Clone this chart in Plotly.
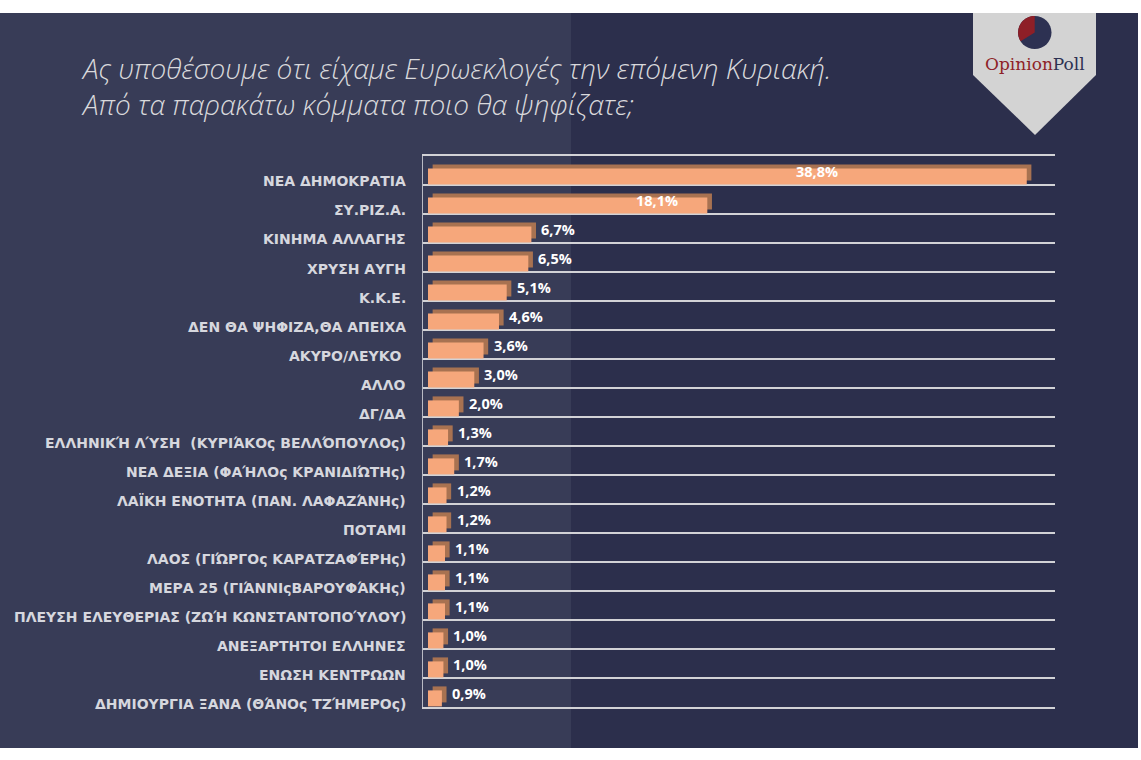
import math
import plotly.graph_objects as go

# ---------------- data ----------------
categories = [
    "ΝΕΑ ΔΗΜΟΚΡΑΤΙΑ",
    "ΣΥ.ΡΙΖ.Α.",
    "ΚΙΝΗΜΑ ΑΛΛΑΓΗΣ",
    "ΧΡΥΣΗ ΑΥΓΗ",
    "Κ.Κ.Ε.",
    "ΔΕΝ ΘΑ ΨΗΦΙΖΑ,ΘΑ ΑΠΕΙΧΑ",
    "ΑΚΥΡΟ/ΛΕΥΚΟ\u00a0",
    "ΑΛΛΟ",
    "ΔΓ/ΔΑ",
    "ΕΛΛΗΝΙΚΉ ΛΎΣΗ \u00a0(ΚΥΡΙΆΚΟς ΒΕΛΛΌΠΟΥΛΟς)",
    "ΝΕΑ ΔΕΞΙΑ (ΦΑΉΛΟς ΚΡΑΝΙΔΙΏΤΗς)",
    "ΛΑΪΚΗ ΕΝΟΤΗΤΑ (ΠΑΝ. ΛΑΦΑΖΆΝΗς)",
    "ΠΟΤΑΜΙ",
    "ΛΑΟΣ (ΓΙΏΡΓΟς ΚΑΡΑΤΖΑΦΈΡΗς)",
    "ΜΕΡΑ 25 (ΓΙΆΝΝΙςΒΑΡΟΥΦΆΚΗς)",
    "ΠΛΕΥΣΗ ΕΛΕΥΘΕΡΙΑΣ (ΖΩΉ ΚΩΝΣΤΑΝΤΟΠΟΎΛΟΥ)",
    "ΑΝΕΞΑΡΤΗΤΟΙ ΕΛΛΗΝΕΣ",
    "ΕΝΩΣΗ ΚΕΝΤΡΩΩΝ",
    "ΔΗΜΙΟΥΡΓΙΑ ΞΑΝΑ (ΘΆΝΟς ΤΖΉΜΕΡΟς)",
]
values = [38.8, 18.1, 6.7, 6.5, 5.1, 4.6, 3.6, 3.0, 2.0, 1.3, 1.7,
          1.2, 1.2, 1.1, 1.1, 1.1, 1.0, 1.0, 0.9]

title_lines = [
    "Ας υποθέσουμε ότι είχαμε Ευρωεκλογές την επόμενη Κυριακή.",
    "Από τα παρακάτω κόμματα ποιο θα ψηφίζατε;",
]

# ---------------- layout helpers ----------------
W, H = 1141, 760


def fx(px):
    return px / W


def fy(py):
    return 1 - py / H


FRONT = "#f6a77b"
BACK = "#a87251"
GRID = "#d2d2d6"
LABEL = "#d6d7de"

fig = go.Figure()

# 3D look: darker "depth" bar behind, then front face
fig.add_trace(go.Bar(
    x=values, y=categories, orientation="h", base=0.3,
    marker=dict(color=BACK, line=dict(width=0)),
    offset=-0.21, width=0.552, hoverinfo="skip", showlegend=False,
))
fig.add_trace(go.Bar(
    x=values, y=categories, orientation="h",
    marker=dict(color=FRONT, line=dict(width=0)),
    offset=-0.072, width=0.552, hoverinfo="skip", showlegend=False,
))

annotations = []
value_font = dict(family="Open Sans", size=14.5, color="white", weight="bold")
cat_font = dict(family="DejaVu Sans", size=14, color=LABEL, weight="bold")
inside_shift = {0: -187, 1: -27}
for i, (c, v) in enumerate(zip(categories, values)):
    txt = f"{v:.1f}".replace(".", ",") + "%"
    if i in inside_shift:
        annotations.append(dict(x=v, y=c, xref="x", yref="y", text=txt,
                                showarrow=False, xanchor="right",
                                xshift=inside_shift[i], yshift=-1,
                                font=value_font))
    else:
        annotations.append(dict(x=v, y=c, xref="x", yref="y", text=txt,
                                showarrow=False, xanchor="left",
                                xshift=8, yshift=-1, font=value_font))
    # category label
    annotations.append(dict(x=fx(408), y=c, xref="paper", yref="y", text=c,
                            showarrow=False, xanchor="right", yshift=-11,
                            font=cat_font))

# title (two lines in one text block)
annotations.append(dict(
    x=fx(79), y=fy(86), xref="paper", yref="paper", xanchor="left",
    yanchor="middle", align="left", showarrow=False,
    text="<br>".join(title_lines),
    font=dict(family="Open Sans", size=28, color="#d9d9dc",
              style="italic", weight=300),
))

# logo text
annotations.append(dict(
    x=fx(1035), y=fy(64), xref="paper", yref="paper", showarrow=False,
    xanchor="center", yanchor="middle",
    text="<span style='color:#8e1f27'>Opinion</span>"
         "<span style='color:#2d3152'>Poll</span>",
    font=dict(family="DejaVu Serif", size=17, color="#2d3152"),
))

shapes = [
    # page background halves
    dict(type="rect", xref="paper", yref="paper", x0=0, x1=fx(571),
         y0=fy(748), y1=fy(13), fillcolor="#383c57", line=dict(width=0),
         layer="below"),
    dict(type="rect", xref="paper", yref="paper", x0=fx(571), x1=fx(1138),
         y0=fy(748), y1=fy(13), fillcolor="#2c2f4c", line=dict(width=0),
         layer="below"),
    # logo banner
    dict(type="path", xref="paper", yref="paper",
         path=(f"M {fx(973)},{fy(13)} L {fx(1096)},{fy(13)} "
               f"L {fx(1096)},{fy(75)} L {fx(1035)},{fy(135)} "
               f"L {fx(973)},{fy(75)} Z"),
         fillcolor="#d3d3d3", line=dict(width=0), layer="above"),
    dict(type="circle", xref="paper", yref="paper",
         x0=fx(1018), x1=fx(1051.5), y0=fy(49), y1=fy(16),
         fillcolor="#2d3152", line=dict(width=0), layer="above"),
]
cx, cy, r = 1034.7, 32.5, 16.6
pts = [f"M {fx(cx)},{fy(cy)}"]
for k in range(0, 31):
    a = math.radians(90 + 122 * k / 30)
    pts.append(f"L {fx(cx + r * math.cos(a))},{fy(cy - r * math.sin(a))}")
pts.append("Z")
shapes.append(dict(type="path", xref="paper", yref="paper", path=" ".join(pts),
                   fillcolor="#8e1f27", line=dict(width=0), layer="above"))

fig.update_layout(
    width=W, height=H, margin=dict(l=0, r=0, t=0, b=0),
    paper_bgcolor="white", plot_bgcolor="rgba(0,0,0,0)",
    barmode="overlay", showlegend=False,
    xaxis=dict(domain=[fx(423), fx(1055)], range=[-0.324, 40.63],
               showgrid=False, zeroline=False, showticklabels=False,
               ticks="", showline=True, mirror=True, linecolor=GRID,
               linewidth=2, fixedrange=True),
    yaxis=dict(domain=[fy(707), fy(156)], type="category",
               categoryorder="array", categoryarray=categories,
               range=[18.5, -0.5], tickson="boundaries", showgrid=True,
               gridcolor=GRID, gridwidth=2, showticklabels=False,
               ticks="", showline=True, linecolor="#b9bac4", linewidth=1,
               zeroline=False, fixedrange=True),
    annotations=annotations, shapes=shapes,
)

fig.write_html("out.html", config={"displayModeBar": False},
               post_script="document.body.style.margin='0px';")
